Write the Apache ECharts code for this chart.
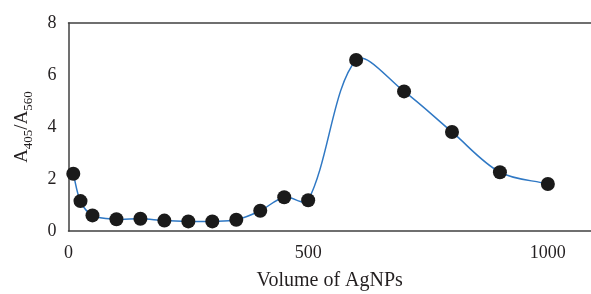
<!DOCTYPE html>
<html>
<head>
<meta charset="utf-8">
<script src="https://cdn.jsdelivr.net/npm/echarts@6/dist/echarts.min.js"></script>
<style>
  html, body { margin: 0; padding: 0; background: #fff; }
  #main { width: 591px; height: 294px; }
</style>
</head>
<body>
<div id="main"></div>
<script>
// volume of AgNPs vs A405/A560 ratio
const volumes = [10, 25, 50, 100, 150, 200, 250, 300, 350, 400, 450, 500, 600, 700, 800, 900, 1000];
const ratios = [2.2, 1.15, 0.6, 0.45, 0.47, 0.4, 0.37, 0.37, 0.43, 0.78, 1.3, 1.18, 6.58, 5.37, 3.81, 2.26, 1.81];
const yTicks = [0, 2, 4, 6, 8];

const points = volumes.map((v, i) => [v, ratios[i]]);
const font = "'Liberation Serif', 'DejaVu Serif', serif";
const textColor = "#231f20";
const axisColor = "#404040";

function dist(a, b) {
  return Math.hypot(b[0] - a[0], b[1] - a[1]);
}

// excel-like smoothed line, tangents weighted by chord length (pixel space)
function smoothPath(params, api) {
  if (params.dataIndex !== 0) return;
  const px = points.map((p) => api.coord(p));
  let d = "M" + px[0][0] + " " + px[0][1];
  for (let i = 0; i < px.length - 1; i++) {
    const p0 = px[i - 1] || px[i];
    const p1 = px[i];
    const p2 = px[i + 1];
    const p3 = px[i + 2] || p2;
    const d01 = dist(p0, p1), d12 = dist(p1, p2), d23 = dist(p2, p3);
    const f1 = d12 / (d01 + d12 || 1) / 3;
    const f2 = d12 / (d12 + d23 || 1) / 3;
    const c1x = p1[0] + (p2[0] - p0[0]) * f1;
    const c1y = p1[1] + (p2[1] - p0[1]) * f1;
    const c2x = p2[0] - (p3[0] - p1[0]) * f2;
    const c2y = p2[1] - (p3[1] - p1[1]) * f2;
    d += " C" + c1x + " " + c1y + " " + c2x + " " + c2y + " " + p2[0] + " " + p2[1];
  }
  return {
    type: "path",
    shape: { pathData: d },
    style: { stroke: "#2f78c4", lineWidth: 1.5, fill: "none" },
  };
}

var chart = echarts.init(document.getElementById("main"));
var option = {
  animation: false,
  grid: { left: 68.5, right: 0, top: 23, bottom: 63, outerBoundsMode: "none", containLabel: false },
  xAxis: [
    {
      type: "value",
      min: 0,
      max: 1090,
      interval: 500,
      name: "Volume of AgNPs",
      nameLocation: "middle",
      nameGap: 40,
      nameTextStyle: { fontFamily: font, fontSize: 20, color: textColor },
      axisLine: { show: true, lineStyle: { color: axisColor, width: 1.5 } },
      axisTick: { show: false },
      splitLine: { show: false },
      axisLabel: {
        fontFamily: font, fontSize: 18, color: textColor, margin: 13,
        showMaxLabel: false,
        formatter: (v) => String(v),
      },
    },
    {
      type: "value",
      position: "top",
      min: 0,
      max: 1090,
      axisLine: { show: true, onZero: false, lineStyle: { color: axisColor, width: 1.5 } },
      axisTick: { show: false },
      axisLabel: { show: false },
      splitLine: { show: false },
    },
  ],
  yAxis: {
    type: "value",
    min: yTicks[0],
    max: yTicks[yTicks.length - 1],
    interval: 2,
    name: "{a|A}{s|405}{a|/A}{s|560}",
    nameLocation: "middle",
    nameGap: 33,
    nameRotate: 90,
    nameTextStyle: {
      rich: {
        a: { fontFamily: font, fontSize: 19, color: textColor, lineHeight: 23, verticalAlign: "top" },
        s: { fontFamily: font, fontSize: 13, color: textColor, lineHeight: 23, verticalAlign: "bottom" },
      },
    },
    axisLine: { show: true, lineStyle: { color: axisColor, width: 1.5 } },
    axisTick: { show: false },
    splitLine: { show: false },
    axisLabel: { fontFamily: font, fontSize: 18, color: textColor, margin: 12 },
  },
  series: [
    {
      type: "custom",
      data: points,
      renderItem: smoothPath,
      silent: true,
      z: 1,
    },
    {
      type: "scatter",
      data: points,
      symbol: "circle",
      symbolSize: 14,
      itemStyle: { color: "#1a1a1a", opacity: 1 },
      z: 2,
    },
  ],
};
chart.setOption(option);
</script>
</body>
</html>
